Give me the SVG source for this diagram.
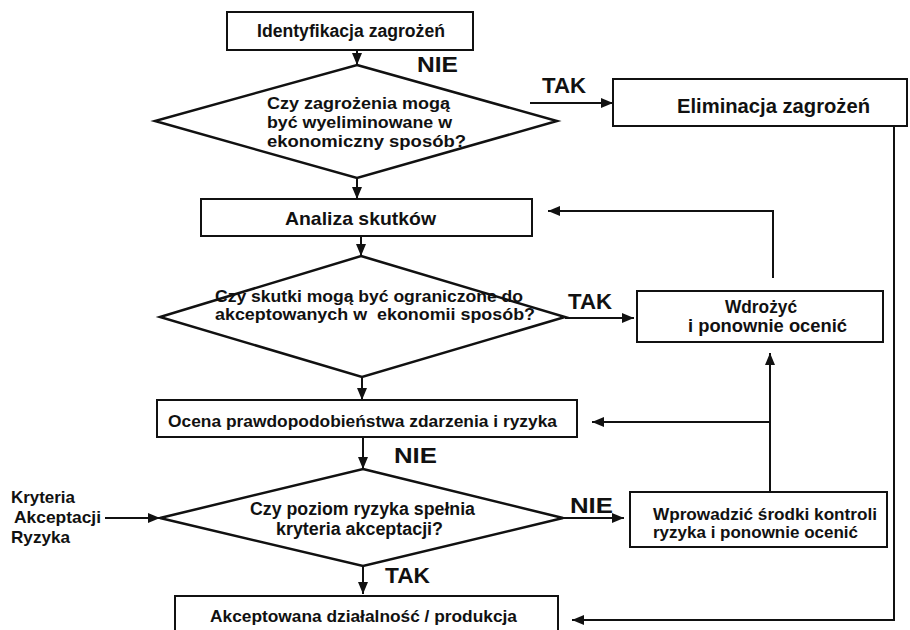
<svg xmlns="http://www.w3.org/2000/svg" width="910" height="630" viewBox="0 0 910 630">
<defs>
<marker id="ah" viewBox="0 0 12 10" refX="12" refY="5" markerWidth="12" markerHeight="10" markerUnits="userSpaceOnUse" orient="auto">
<path d="M0,0 L12,5 L0,10 Z" fill="#111"/>
</marker>
<style>
text{font-family:"Liberation Sans",Arial,sans-serif;font-weight:bold;fill:#111}
.box{fill:#fff;stroke:#111;stroke-width:2}
.dia{fill:#fff;stroke:#111;stroke-width:2.5}
.con{fill:none;stroke:#111;stroke-width:2}
.arr{marker-end:url(#ah)}
.lbl{font-size:22px}
.t16{font-size:17px}
.t15{font-size:17px}
</style>
</defs>
<rect width="910" height="630" fill="#fff"/>

<g id="connectors">
<path class="con arr" d="M357,50 V65"/>
<path class="con arr" d="M530,103 H613"/>
<path class="con arr" d="M357,178 V199"/>
<path class="con arr" d="M773,278 V211 H548"/>
<path class="con arr" d="M361,236 V256"/>
<path class="con arr" d="M565,318 H634"/>
<path class="con arr" d="M362,377 V400"/>
<path class="con arr" d="M770,492 V353"/>
<path class="con arr" d="M770,422 H592"/>
<path class="con arr" d="M363,437 V469"/>
<path class="con arr" d="M105,518 H160"/>
<path class="con arr" d="M563,518 H624"/>
<path class="con arr" d="M363,566 V594"/>
<path class="con arr" d="M894,126 V620 H572"/>
</g>

<g id="labels">
<text class="lbl" x="417" y="72" textLength="41" lengthAdjust="spacingAndGlyphs">NIE</text>
<text class="lbl" x="542" y="93" textLength="44" lengthAdjust="spacingAndGlyphs">TAK</text>
<text class="lbl" x="568" y="309" textLength="44" lengthAdjust="spacingAndGlyphs">TAK</text>
<text class="lbl" x="394" y="463" textLength="43" lengthAdjust="spacingAndGlyphs">NIE</text>
<text class="lbl" x="570" y="513" textLength="43" lengthAdjust="spacingAndGlyphs">NIE</text>
<text class="lbl" x="385" y="583" textLength="45" lengthAdjust="spacingAndGlyphs">TAK</text>
</g>

<g id="n-identyfikacja">
<rect class="box" x="227" y="12" width="246" height="38"/>
<text x="257" y="37" font-size="17.5" textLength="188" lengthAdjust="spacingAndGlyphs">Identyfikacja zagrożeń</text>
</g>

<g id="n-decyzja1">
<polygon class="dia" points="357,65 557,121 357,178 155,121"/>
<text class="t16" x="267" y="109" textLength="183" lengthAdjust="spacingAndGlyphs">Czy zagrożenia mogą</text>
<text class="t16" x="267" y="128" textLength="185" lengthAdjust="spacingAndGlyphs">być wyeliminowane w</text>
<text class="t16" x="267" y="147" textLength="199" lengthAdjust="spacingAndGlyphs">ekonomiczny sposób?</text>
</g>

<g id="n-eliminacja">
<rect class="box" x="613" y="79" width="294" height="47"/>
<text x="677" y="113" font-size="20" textLength="193" lengthAdjust="spacingAndGlyphs">Eliminacja zagrożeń</text>
</g>

<g id="n-analiza">
<rect class="box" x="201" y="199" width="331" height="37"/>
<text x="285" y="225" font-size="19" textLength="151" lengthAdjust="spacingAndGlyphs">Analiza skutków</text>
</g>

<g id="n-decyzja2">
<polygon class="dia" points="361,256 565,317 362,377 160,317"/>
<text x="215" y="302" font-size="16" textLength="308" lengthAdjust="spacingAndGlyphs">Czy skutki mogą być ograniczone do</text>
<text x="215" y="320" font-size="16" xml:space="preserve" textLength="320" lengthAdjust="spacingAndGlyphs">akceptowanych w  ekonomii sposób?</text>
</g>

<g id="n-wdrozyc">
<rect class="box" x="637" y="291" width="246" height="51"/>
<text x="725" y="313" font-size="18" textLength="72" lengthAdjust="spacingAndGlyphs">Wdrożyć</text>
<text x="688" y="332" font-size="18" textLength="159" lengthAdjust="spacingAndGlyphs">i ponownie ocenić</text>
</g>

<g id="n-ocena">
<rect class="box" x="157" y="400" width="420" height="37"/>
<text class="t15" x="168" y="427" textLength="389" lengthAdjust="spacingAndGlyphs">Ocena prawdopodobieństwa zdarzenia i ryzyka</text>
</g>

<g id="n-kryteria">
<text class="t15" x="11" y="503" textLength="64" lengthAdjust="spacingAndGlyphs">Kryteria</text>
<text class="t15" x="14" y="523" textLength="87" lengthAdjust="spacingAndGlyphs">Akceptacji</text>
<text class="t15" x="11" y="543" textLength="59" lengthAdjust="spacingAndGlyphs">Ryzyka</text>
</g>

<g id="n-decyzja3">
<polygon class="dia" points="363,469 563,518 363,566 160,518"/>
<text x="250" y="515" font-size="17.5" textLength="225" lengthAdjust="spacingAndGlyphs">Czy poziom ryzyka spełnia</text>
<text x="276" y="535" font-size="17.5" textLength="167" lengthAdjust="spacingAndGlyphs">kryteria akceptacji?</text>
</g>

<g id="n-wprowadzic">
<rect class="box" x="630" y="492" width="257" height="55"/>
<text x="653" y="520" font-size="16.5" textLength="224" lengthAdjust="spacingAndGlyphs">Wprowadzić środki kontroli</text>
<text x="653" y="538" font-size="16.5" textLength="205" lengthAdjust="spacingAndGlyphs">ryzyka i ponownie ocenić</text>
</g>

<g id="n-akceptowana">
<rect class="box" x="175" y="596" width="383" height="50"/>
<text class="t15" x="210" y="622" textLength="307" lengthAdjust="spacingAndGlyphs">Akceptowana działalność / produkcja</text>
</g>
</svg>
